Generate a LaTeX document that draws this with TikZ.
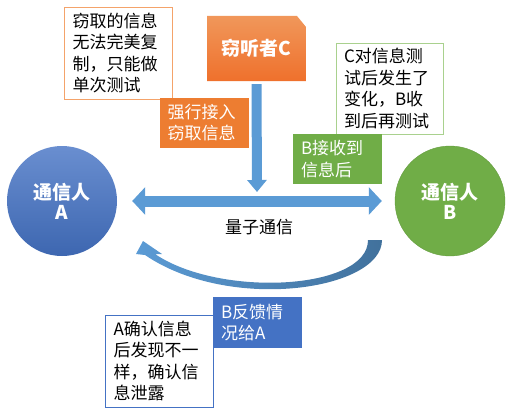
\documentclass[tikz,border=0pt]{standalone}
\usepackage{fontspec}
\setmainfont{Noto Sans CJK SC}
\usetikzlibrary{arrows.meta}
\definecolor{arrowblue}{HTML}{5B9BD5}
\definecolor{arrowdark}{HTML}{41719C}
\definecolor{boxblue}{HTML}{4472C4}
\definecolor{boxgreen}{HTML}{70AD47}
\definecolor{boxorange}{HTML}{ED7D31}
\definecolor{noteorange}{HTML}{F4A36A}
\definecolor{notegreen}{HTML}{A9D18E}
\begin{document}
\begin{tikzpicture}
[x=1pt,y=-1pt,
txt/.style={font=\fontsize{17}{21.5}\selectfont},
note/.style={txt,rectangle,draw,fill=white,align=left,text width=91pt,minimum width=108pt,minimum height=92pt,line width=0.8pt},
box/.style={txt,rectangle,text=white,align=left,text width=73pt,minimum width=89pt,minimum height=50pt},
user/.style={circle,text=white,align=center,minimum size=110pt,font=\fontsize{19}{20}\selectfont\bfseries},
fatarrow/.style={arrowblue,line width=11pt},
]
\useasboundingbox (0,0) rectangle (513,412);
\node[note,draw=noteorange] (noteC) at (118,53) {窃取的信息\\无法完美复\\制，只能做\\单次测试};
\shade[top color=boxorange!80!white,bottom color=boxorange!90!red] (207,16) -- (297,16) -- (306,27) -- (306,81) -- (207,81) -- cycle;
\node[text=white,font=\fontsize{19}{20}\selectfont\bfseries,minimum width=99pt,minimum height=65pt] (snoop) at (256.5,48.5) {窃听者C};
\node[box,fill=boxorange] (grab) at (204,122.5) {强行接入\\窃取信息};
\node[note,draw=notegreen,minimum width=107pt,minimum height=91pt] (noteB) at (389.5,88.5) {C对信息测\\试后发生了\\变化，B收\\到后再测试};
\node[box,fill=boxgreen] (recv) at (337.5,159) {B接收到\\信息后};
\node[user,top color=boxblue!80!white,bottom color=boxblue!90!black] (userA) at (62,201) {通信人\\A};
\node[user,fill=boxgreen,draw=boxgreen!90!black] (userB) at (450,201) {通信人\\B};
\draw[fatarrow,{Triangle[width=27pt,length=13pt]}-{Triangle[width=27pt,length=13pt]}]
  ([xshift=15pt]userA.east) -- ([xshift=-13pt]userB.west);
\coordinate (tap) at (257,192);
\draw[arrowblue,line width=10pt,-{Triangle[width=19pt,length=12pt]}] ([yshift=-3pt]snoop.south) -- (tap);
\node[txt] (channel) at (259,227) {量子通信};
\coordinate (fbfrom) at (374.5,240);
\coordinate (fbto) at (143,241);
\shade[left color=arrowblue,right color=arrowdark]
  (368,240) -- (382,240) .. controls (382,290) and (230,313) .. (145,255)
  -- (136,254) -- (fbto) -- (162,254) -- (155,254)
  .. controls (220,298) and (368,290) .. (368,240) -- cycle;
\node[box,fill=boxblue,minimum height=51pt] (feedback) at (257.5,322.5) {B反馈情\\况给A};
\node[note,draw=boxblue] (noteA) at (159,361) {A确认信息\\后发现不一\\样，确认信\\息泄露};
\end{tikzpicture}
\end{document}
